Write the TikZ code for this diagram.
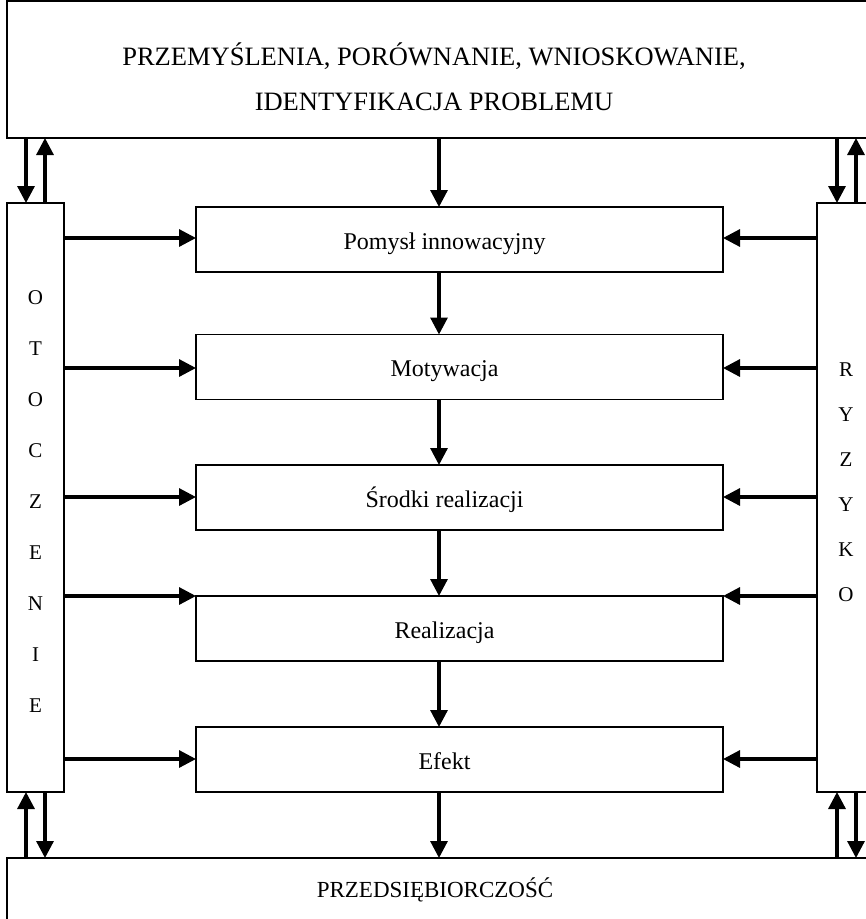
\documentclass[tikz,border=0pt]{standalone}
\usepackage{fontspec}
\setmainfont{Liberation Serif}
\usetikzlibrary{arrows.meta}

\begin{document}
\begin{tikzpicture}[x=1pt, y=-1pt,
  frame/.style={draw, line width=1.6pt, rectangle, inner sep=0pt, outer sep=0pt},
  stepbox/.style={frame, minimum width=527pt, minimum height=65pt},
  steptext/.style={inner sep=0pt, anchor=base, font=\fontsize{24}{28}\selectfont},
  flow/.style={line width=3.2pt, -{Triangle[width=17pt,length=17pt]}},
  vletters/.style={align=center, inner sep=0pt}
]
\useasboundingbox (0,0) rectangle (866,919);
\clip (0,0) rectangle (866,919);

% outer frames (running past the page edge)
\node[frame, minimum width=880pt, minimum height=137pt] (top) at (447,69.5) {};
\node[frame, minimum width=57pt, minimum height=589pt] (left) at (35.5,497.5) {};
\node[frame, minimum width=70pt, minimum height=589pt] (right) at (852,497.5) {};
\node[frame, minimum width=880pt, minimum height=120pt] (bottom) at (447,918) {};

% texts of the outer frames
\node[align=center, font=\fontsize{26.5}{45}\selectfont, inner sep=0pt] (toptext) at (434,77)
  {PRZEMYŚLENIA, PORÓWNANIE, WNIOSKOWANIE,\\IDENTYFIKACJA PROBLEMU};
\node[font=\fontsize{23}{27}\selectfont, inner sep=0pt] (bottomtext) at (435,890) {PRZEDSIĘBIORCZOŚĆ};
\node[vletters, font=\fontsize{21}{51}\selectfont] (otoczenie) at (35.5,502)
  {O\\T\\O\\C\\Z\\E\\N\\I\\E};
\node[vletters, font=\fontsize{21}{45}\selectfont] (ryzyko) at (846,482)
  {R\\Y\\Z\\Y\\K\\O};

% the chain of steps
\node[stepbox] (s1) at (459.5,239.5) {};
\node[stepbox] (s2) at (459.5,367)   {};
\node[stepbox] (s3) at (459.5,497.5) {};
\node[stepbox] (s4) at (459.5,628.5) {};
\node[stepbox] (s5) at (459.5,759.5) {};
\node[steptext] (t1) at ([xshift=-15pt,yshift=-9.5pt]s1.center) {Pomysł innowacyjny};
\node[steptext] (t2) at ([xshift=-15pt,yshift=-9.5pt]s2.center) {Motywacja};
\node[steptext] (t3) at ([xshift=-15pt,yshift=-9.5pt]s3.center) {Środki realizacji};
\node[steptext] (t4) at ([xshift=-15pt,yshift=-9.5pt]s4.center) {Realizacja};
\node[steptext] (t5) at ([xshift=-15pt,yshift=-9.5pt]s5.center) {Efekt};

% vertical flow through the centre
\coordinate (cx) at (439,0);
\draw[flow] (top.south -| cx) -- (s1.north -| cx);
\draw[flow] (s1.south -| cx) -- (s2.north -| cx);
\draw[flow] (s2.south -| cx) -- (s3.north -| cx);
\draw[flow] (s3.south -| cx) -- (s4.north -| cx);
\draw[flow] (s4.south -| cx) -- (s5.north -| cx);
\draw[flow] (s5.south -| cx) -- (bottom.north -| cx);

% influences from both sides
\foreach \s/\y in {s1/238, s2/368, s3/497, s4/596, s5/759}{
  \coordinate (ly) at (0,\y);
  \draw[flow] (left.east |- ly) -- (\s.west |- ly);
  \draw[flow] (right.west |- ly) -- (\s.east |- ly);
}

% feedback between the side frames and the top and bottom frames
\coordinate (la) at (26,0);
\coordinate (lb) at (45,0);
\coordinate (ra) at (837,0);
\coordinate (rb) at (856,0);
\draw[flow] (top.south -| la) -- (left.north -| la);
\draw[flow] (left.north -| lb) -- (top.south -| lb);
\draw[flow] (top.south -| ra) -- (right.north -| ra);
\draw[flow] (right.north -| rb) -- (top.south -| rb);
\draw[flow] (bottom.north -| la) -- (left.south -| la);
\draw[flow] (left.south -| lb) -- (bottom.north -| lb);
\draw[flow] (bottom.north -| ra) -- (right.south -| ra);
\draw[flow] (right.south -| rb) -- (bottom.north -| rb);
\end{tikzpicture}
\end{document}
